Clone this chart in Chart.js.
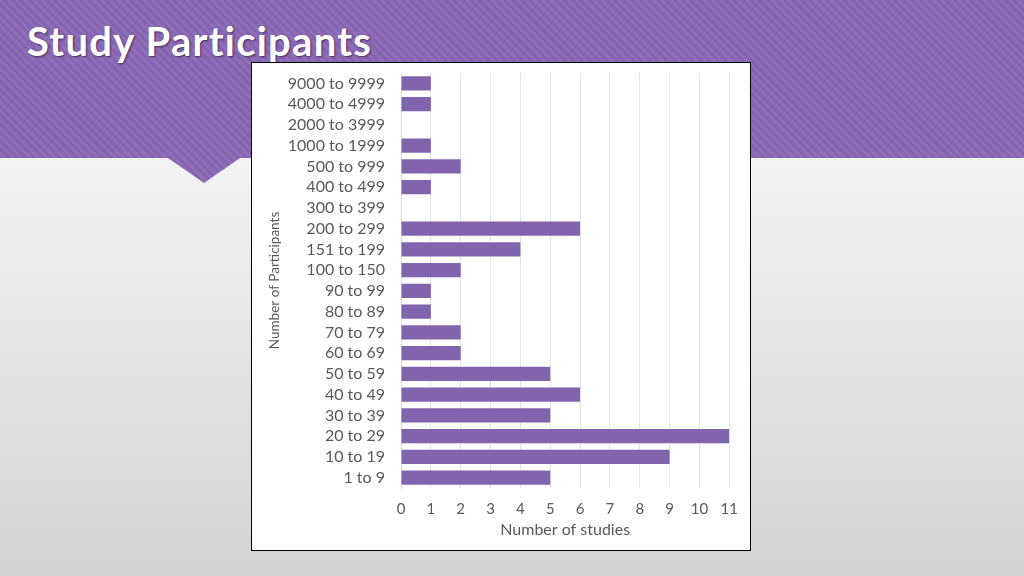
<!DOCTYPE html>
<html>
<head>
<meta charset="utf-8">
<script src="https://cdn.jsdelivr.net/npm/chart.js@4"></script>
<style>
  html, body { margin: 0; padding: 0; }
  body {
    width: 1024px; height: 576px; overflow: hidden; position: relative;
    background: linear-gradient(to bottom, #f6f6f6 0px, #f3f3f3 160px, #d3d3d3 576px);
    font-family: Lato, "Open Sans", sans-serif;
  }
  #banda {
    position: absolute; left: 0; top: 0; width: 1024px; height: 185px;
    background: repeating-linear-gradient(45deg, #8764b1 0px, #8764b1 3px, #8f6eb8 3px, #8f6eb8 6px);
    clip-path: polygon(0 0, 100% 0, 100% 158px, 240px 158px, 204px 183px, 168px 158px, 0 158px);
  }
  #titulo {
    position: absolute; left: 27px; top: 17px; margin: 0; line-height: 1.2;
    color: #ffffff; font-size: 40px; font-weight: 700; letter-spacing: 1.25px;
    text-shadow: 1px 1px 2px rgba(40, 20, 60, 0.7);
  }
  #caja {
    position: absolute; left: 251px; top: 62px; width: 498px; height: 487px;
    background: #ffffff; border: 1px solid #000;
  }
</style>
</head>
<body>
<div id="banda"></div>
<h1 id="titulo">Study Participants</h1>
<div id="caja"><canvas id="grafico" width="498" height="487"></canvas></div>

<script>
// --- datos ---
const categorias = [
  '9000 to 9999', '4000 to 4999', '2000 to 3999', '1000 to 1999', '500 to 999',
  '400 to 499', '300 to 399', '200 to 299', '151 to 199', '100 to 150',
  '90 to 99', '80 to 89', '70 to 79', '60 to 69', '50 to 59',
  '40 to 49', '30 to 39', '20 to 29', '10 to 19', '1 to 9'
];
const estudios = [1, 1, 0, 1, 2, 1, 0, 6, 4, 2, 1, 1, 2, 2, 5, 6, 5, 11, 9, 5];
const ticksX = [0, 1, 2, 3, 4, 5, 6, 7, 8, 9, 10, 11];

const tituloX = 'Number of studies';
const tituloY = 'Number of Participants';

const fuente = 'Lato, "Open Sans", sans-serif';
const gris = '#595959';

new Chart(document.getElementById('grafico'), {
  type: 'bar',
  data: {
    labels: categorias,
    datasets: [{
      data: estudios,
      backgroundColor: '#8064ae',
      borderWidth: 0,
      categoryPercentage: 0.68,
      barPercentage: 1
    }]
  },
  options: {
    indexAxis: 'y',
    responsive: false,
    animation: false,
    layout: { padding: { top: 10, right: 19, bottom: 11, left: 15 } },
    plugins: { legend: { display: false }, tooltip: { enabled: false } },
    scales: {
      x: {
        min: 0, max: 11,
        afterBuildTicks: (s) => { s.ticks = ticksX.map(v => ({ value: v })); },
        afterFit: (s) => { s.height = 51; },
        ticks: { color: gris, font: { family: fuente, size: 15 }, padding: 12 },
        grid: { color: '#e3e3e3', drawTicks: false },
        border: { display: false },
        title: { display: true, text: tituloX, color: gris, font: { family: fuente, size: 16 }, padding: { top: 2, bottom: 0 } }
      },
      y: {
        // ancho fijo para que el eje quede en x=401 como en la diapositiva
        afterFit: (s) => { s.width = 134; s.paddingTop = 0; s.paddingBottom = 0; },
        ticks: { color: gris, font: { family: fuente, size: 16 }, padding: 16, autoSkip: false },
        grid: { display: false, drawTicks: false },
        border: { display: true, color: '#d9d9d9' },
        title: { display: true, text: tituloY, color: gris, font: { family: fuente, size: 13.5 }, padding: 0 }
      }
    }
  }
});
</script>
</body>
</html>
